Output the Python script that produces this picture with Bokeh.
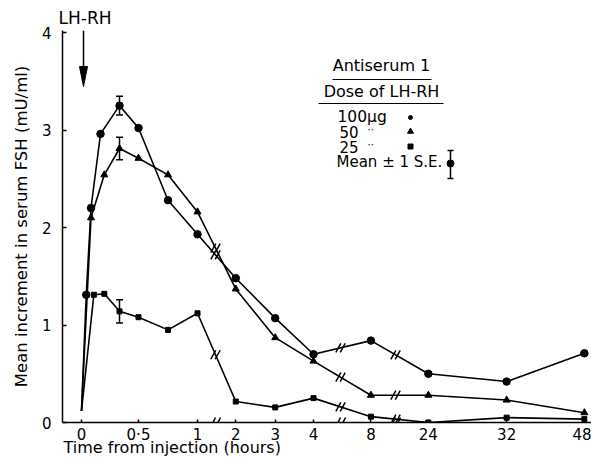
import numpy as np
from bokeh.plotting import figure
from bokeh.models import Range1d, FixedTicker, Label, Title, Whisker, TeeHead, ColumnDataSource
from bokeh.embed import file_html
from bokeh.resources import INLINE

# ---------------- data ----------------
tick_hours = [0, 0.5, 1, 2, 3, 4, 8, 24, 32, 48]
tick_labels = ["0", "0·5", "1", "2", "3", "4", "8", "24", "32", "48"]

hours_100 = [0, 2.5/60, 5/60, 10/60, 20/60, 30/60, 45/60, 1, 2, 3, 4, 8, 24, 32, 48]
fsh_100 = [0.12, 1.31, 2.20, 2.96, 3.25, 3.02, 2.28, 1.93, 1.48, 1.07, 0.70, 0.84, 0.50, 0.42, 0.71]

hours_50 = [0, 5/60, 12/60, 20/60, 30/60, 45/60, 1, 2, 3, 4, 8, 24, 32, 48]
fsh_50 = [0.12, 2.10, 2.54, 2.81, 2.71, 2.54, 2.16, 1.37, 0.87, 0.63, 0.28, 0.28, 0.23, 0.10]

hours_25 = [0, 6.5/60, 12/60, 20/60, 30/60, 45/60, 1, 2, 3, 4, 8, 24, 32, 48]
fsh_25 = [0.12, 1.31, 1.32, 1.14, 1.08, 0.95, 1.12, 0.215, 0.155, 0.25, 0.06, 0.0, 0.05, 0.035]

se_hours = [20/60, 20/60, 20/60]
se_mean = [3.25, 2.81, 1.14]
se_half = [0.095, 0.115, 0.12]

# ---------------- layout of the broken time axis ----------------
tick_pos = [0.0, 0.983, 2.0, 2.66, 3.34, 4.0, 4.99, 5.98, 7.33, 8.67]
break_pos = [2.31, 4.466, 5.414]

def pos(h):
    return np.interp(np.asarray(h, dtype=float), tick_hours, tick_pos)

W, H = 591, 457
FL, FT, FB = 62, 30, 422  # frame left / top / bottom in canvas pixels
PX0, PXU = 81.0, 58.0
PY0, PYU = 422.0, 97.5
def ux(px):
    return (px - PX0) / PXU
def vy(py):
    return (PY0 - py) / PYU

FONT = "DejaVu Sans"

p = figure(width=W, height=H, output_backend="svg", toolbar_location=None,
           x_range=Range1d(ux(FL), ux(W)), y_range=Range1d(0, vy(FT)),
           min_border_left=FL, min_border_right=0, min_border_top=FT, min_border_bottom=H - FB)
p.outline_line_color = None
p.grid.visible = False
p.background_fill_color = "white"
p.border_fill_color = "white"

# y axis
ya = p.yaxis[0]
ya.ticker = FixedTicker(ticks=[0, 1, 2, 3, 4])
ya.major_tick_in = 4
ya.major_tick_out = 0
ya.minor_tick_in = 0
ya.minor_tick_out = 0
ya.axis_line_width = 1.5
ya.major_tick_line_width = 1.5
ya.axis_line_color = "black"
ya.major_label_text_font = FONT
ya.major_label_text_font_size = "15px"
ya.major_label_text_color = "black"
ya.major_label_standoff = 11
ya.axis_label = "Mean increment in serum FSH (mU/ml)"
ya.axis_label_text_font = FONT
ya.axis_label_text_font_size = "16.5px"
ya.axis_label_text_font_style = "normal"
ya.axis_label_text_color = "black"
ya.axis_label_standoff = 8

# x axis
xa = p.xaxis[0]
xa.ticker = FixedTicker(ticks=tick_pos)
xa.major_label_overrides = {float(t): l for t, l in zip(tick_pos, tick_labels)}
xa.major_tick_in = 3
xa.major_tick_out = 0
xa.minor_tick_in = 0
xa.minor_tick_out = 0
xa.axis_line_width = 1.5
xa.major_tick_line_width = 1.5
xa.axis_line_color = "black"
xa.major_label_text_font = FONT
xa.major_label_text_font_size = "15px"
xa.major_label_text_color = "black"
xa.major_label_standoff = 3

# x-axis title and LH-RH caption as side-panel titles
p.add_layout(Title(text="Time from injection (hours)", align="left", offset=1, standoff=-18,
                   vertical_align="top",
                   text_font=FONT, text_font_size="16px", text_font_style="normal",
                   text_color="black"), "below")
p.add_layout(Title(text="LH-RH", align="left", offset=-4, standoff=6,
                   text_font=FONT, text_font_size="17px", text_font_style="normal",
                   text_color="black"), "above")

# series
series = [
    (hours_100, fsh_100, "circle", 7.5),
    (hours_50, fsh_50, "triangle", 7),
    (hours_25, fsh_25, "square", 5),
]
for hrs, vals, mk, sz in series:
    xs = pos(hrs)
    p.line(xs, vals, line_color="black", line_width=1.6)
    p.scatter(xs[1:], vals[1:], marker=mk, size=sz, fill_color="black", line_color="black")
    # break marks on the line
    for b in break_pos:
        yb = float(np.interp(b, xs, vals))
        for dx in (-2.2, 2.2):
            p.segment(x0=[b + (dx - 2.5) / PXU], y0=[yb - 4.5 / PYU],
                      x1=[b + (dx + 2.5) / PXU], y1=[yb + 4.5 / PYU],
                      line_color="black", line_width=1.5)

# error bars
src = ColumnDataSource(dict(x=pos(se_hours),
                            lo=[m - s for m, s in zip(se_mean, se_half)],
                            hi=[m + s for m, s in zip(se_mean, se_half)]))
p.add_layout(Whisker(source=src, base="x", lower="lo", upper="hi", dimension="height",
                     line_color="black", line_width=1.5,
                     upper_head=TeeHead(size=7, line_width=1.5, line_color="black"),
                     lower_head=TeeHead(size=7, line_width=1.5, line_color="black")))

# axis break marks (upper halves, inside the frame)
for b in break_pos:
    for dx in (-2.5, 2.5):
        p.segment(x0=[b + (dx - 2.5) / PXU], y0=[vy(427)], x1=[b + (dx + 2.5) / PXU], y1=[vy(417)],
                  line_color="black", line_width=1.5)

# LH-RH injection arrow
p.segment(x0=[ux(83)], y0=[vy(FT)], x1=[ux(83)], y1=[vy(72)], line_color="black", line_width=1.5)
p.patch([ux(79), ux(87), ux(83)], [vy(66), vy(66), vy(86)], fill_color="black", line_color="black")

# legend block
def lab(px, py, text, size="15px", align="left"):
    p.add_layout(Label(x=ux(px), y=vy(py), text=text, text_font=FONT, text_font_size=size,
                       text_align=align, text_baseline="middle", text_color="black"))

lab(381, 65, "Antiserum 1", "16px", "center")
p.segment(x0=[ux(332)], y0=[vy(79)], x1=[ux(431)], y1=[vy(79)], line_color="black", line_width=1.2)
lab(381, 91, "Dose of LH-RH", "16px", "center")
p.segment(x0=[ux(318)], y0=[vy(103)], x1=[ux(443)], y1=[vy(103)], line_color="black", line_width=1.2)
lab(337, 116, "100µg", "15.5px")
lab(339, 131, "50", "15px")
lab(339, 146, "25", "15px")
lab(367, 129, "··", "10px")
lab(367, 144, "··", "10px")
lab(336, 161, "Mean ± 1 S.E.", "15px")
p.scatter([ux(410)], [vy(117)], marker="circle", size=4, fill_color="black", line_color="black")
p.scatter([ux(410)], [vy(131)], marker="triangle", size=6, fill_color="black", line_color="black")
p.scatter([ux(410)], [vy(146)], marker="square", size=5, fill_color="black", line_color="black")
p.segment(x0=[ux(450)], y0=[vy(150)], x1=[ux(450)], y1=[vy(178)], line_color="black", line_width=1.5)
p.segment(x0=[ux(447)], y0=[vy(150)], x1=[ux(453)], y1=[vy(150)], line_color="black", line_width=1.5)
p.segment(x0=[ux(447)], y0=[vy(178)], x1=[ux(453)], y1=[vy(178)], line_color="black", line_width=1.5)
p.scatter([ux(450)], [vy(163)], marker="circle", size=7, fill_color="black", line_color="black")

open("out.html", "w").write(file_html(p, INLINE))
